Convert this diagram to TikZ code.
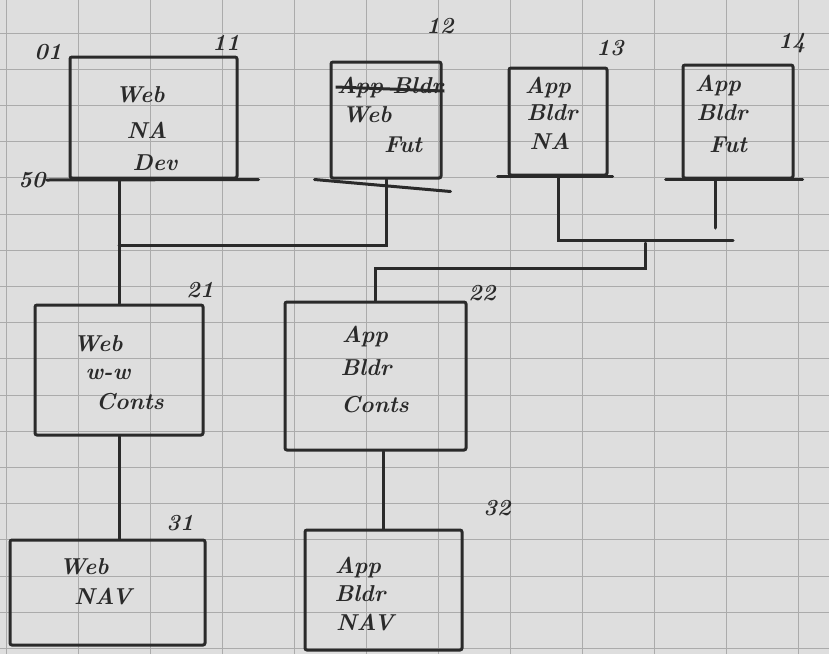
\documentclass[tikz,border=0pt]{standalone}
\usetikzlibrary{calc}
\definecolor{paper}{HTML}{DEDEDE}
\definecolor{gridc}{HTML}{ABABAB}
\definecolor{ink}{HTML}{2A2A2A}
\begin{document}
\begin{tikzpicture}[x=1pt,y=-1pt,
  box/.style={draw=ink,line width=3pt,rectangle,inner sep=0pt,rounded corners=2pt},
  txt/.style={text=ink,font=\fontsize{23}{27}\selectfont\bfseries\itshape,inner sep=1pt},
  num/.style={text=ink,font=\fontsize{23}{27}\selectfont\bfseries\itshape,inner sep=1pt},
  wire/.style={draw=ink,line width=3pt,line cap=round}]
\useasboundingbox (0,0) rectangle (829,654);
\fill[paper] (0,0) rectangle (829,654);
\foreach \i in {0,...,11} {\draw[gridc,line width=0.8pt] ({6+72*\i},0) -- ({6+72*\i},654);}
\foreach \j in {0,...,18} {\draw[gridc,line width=0.8pt] (0,{33+36.2*\j}) -- (829,{33+36.2*\j});}

% boxes
\node[box,minimum width=167,minimum height=121] (b1)  at (153.5,117.5) {};
\node[box,minimum width=110,minimum height=116] (b12) at (386,120) {};
\node[box,minimum width=98, minimum height=107] (b13) at (558,121.5) {};
\node[box,minimum width=110,minimum height=113] (b14) at (738,121.5) {};
\node[box,minimum width=168,minimum height=130] (b21) at (119,370) {};
\node[box,minimum width=181,minimum height=148] (b22) at (375.5,376) {};
\node[box,minimum width=195,minimum height=105] (b31) at (107.5,592.5) {};
\node[box,minimum width=157,minimum height=120] (b32) at (383.5,590) {};

% texts
\node[txt] (t1a) at (140,95) {Web};
\node[txt] (t1b) at (147,130) {NA};
\node[txt] (t1c) at (155,163) {Dev};
\node[txt] (t12a) at (390,88) {App Bldr};
\node[txt] (t12b) at (367,115) {Web};
\node[txt] (t12c) at (403,145) {Fut};
\node[txt] (t13a) at (548,88) {App};
\node[txt] (t13b) at (552,113) {Bldr};
\node[txt] (t13c) at (550,141) {NA};
\node[txt] (t14a) at (718,86) {App};
\node[txt] (t14b) at (722,113) {Bldr};
\node[txt] (t14c) at (728,145) {Fut};
\node[txt] (t21a) at (98,344) {Web};
\node[txt] (t21b) at (108,374) {w-w};
\node[txt] (t21c) at (130,402) {Conts};
\node[txt] (t22a) at (365,337) {App};
\node[txt] (t22b) at (366,368) {Bldr};
\node[txt] (t22c) at (375,405) {Conts};
\node[txt] (t31a) at (84,567) {Web};
\node[txt] (t31b) at (103,597) {NAV};
\node[txt] (t32a) at (358,568) {App};
\node[txt] (t32b) at (360,594) {Bldr};
\node[txt] (t32c) at (365,623) {NAV};
\draw[ink,line width=3pt] ([yshift=1]t12a.west) -- ([yshift=-3]t12a.east);

% number labels
\node[num] (n01) at (48,52) {01};
\node[num] (n11) at (226,43) {11};
\node[num] (n12) at (440,26) {12};
\node[num] (n13) at (610,48) {13};
\node[num] (n14) at (792,43) {14};
\node[num] (n50) at (32,180) {50};
\node[num] (n21) at (200,290) {21};
\node[num] (n22) at (482,293) {22};
\node[num] (n31) at (180,523) {31};
\node[num] (n32) at (497,508) {32};

% extended baselines
\draw[wire] (n50.east) -- ([xshift=20]b1.south east);
\draw[wire] ([xshift=-15]b12.south west) -- ([xshift=8,yshift=-12]b12.south east);
\draw[wire] ([xshift=-10]b13.south west) -- ([xshift=4]b13.south east);
\draw[wire] ([xshift=-16]b14.south west) -- ([xshift=8]b14.south east);

% junctions
\coordinate (j1) at (119,245);
\coordinate (j2) at (715,240);
\coordinate (j4) at (645,243);

% connectors
\draw[wire] (b1.south -| b21.north) -- (b21.north);
\draw[wire] (b12.south) |- (j1);
\draw[wire] (b13.south) |- ([xshift=18]j2);
\draw[wire] (b14.south -| j2) -- ([yshift=12]j2);
\draw[wire] (j4) -- ++(0,25) -| (b22.north);
\draw[wire] (b21.south) -- (b21.south |- b31.north);
\draw[wire] (b32.north |- b22.south) -- (b32.north);
\end{tikzpicture}
\end{document}
